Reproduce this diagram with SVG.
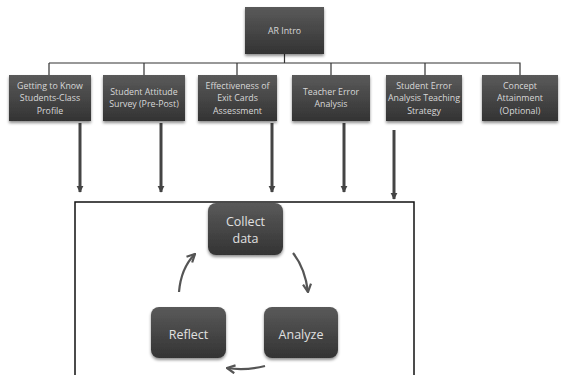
<svg xmlns="http://www.w3.org/2000/svg" width="561" height="375" viewBox="0 0 561 375">
<defs>
<linearGradient id="g" x1="0" y1="0" x2="0" y2="1">
<stop offset="0" stop-color="#5a5a5a"/>
<stop offset="1" stop-color="#333"/>
</linearGradient>
<filter id="sh" x="-20%" y="-20%" width="140%" height="150%">
<feDropShadow dx="0" dy="2" stdDeviation="1.5" flood-color="#000" flood-opacity="0.45"/>
</filter>
<marker id="ah" viewBox="0 0 10 10" refX="9" refY="5" markerWidth="7" markerHeight="8" markerUnits="userSpaceOnUse" orient="auto">
<path d="M0,0 L10,5 L0,10 Z" fill="#444"/>
</marker>
<marker id="ch" viewBox="0 0 10 10" refX="9" refY="5" markerWidth="10" markerHeight="10" markerUnits="userSpaceOnUse" orient="auto">
<path d="M1,1 L9,5 L1,9" fill="none" stroke="#555" stroke-width="2.2"/>
</marker>
</defs>
<style>
.box{fill:url(#g);filter:url(#sh);}
.t{font-family:"Open Sans","Liberation Sans",sans-serif;font-size:8.8px;fill:#d8d8d8;text-anchor:middle;}
.c{font-family:"Open Sans","Liberation Sans",sans-serif;font-size:12.5px;fill:#e0e0e0;text-anchor:middle;}
.ln{stroke:#333;stroke-width:1.2;fill:none;}
.ar{stroke:#444;stroke-width:3;fill:none;}
.cy{stroke:#555;stroke-width:2.2;fill:none;}
</style>
<g id="connectors">
<path class="ln" d="M284.5,54 V63 M49,63 H520 V75 M49,63 V75 M144,63 V75 M237,63 V75 M331,63 V75 M425,63 V75"/>
<line class="ar" x1="80" y1="123" x2="80" y2="192" marker-end="url(#ah)"/>
<line class="ar" x1="161" y1="123" x2="161" y2="192" marker-end="url(#ah)"/>
<line class="ar" x1="272" y1="123" x2="272" y2="192" marker-end="url(#ah)"/>
<line class="ar" x1="344" y1="123" x2="344" y2="192" marker-end="url(#ah)"/>
<line class="ar" x1="394" y1="130" x2="394" y2="199" marker-end="url(#ah)"/>
<path class="cy" d="M293,253 Q305,268 308,292" marker-end="url(#ch)"/>
<path class="cy" d="M265,366 Q245,371 227,368" marker-end="url(#ch)"/>
<path class="cy" d="M179,292 Q181,268 195,254" marker-end="url(#ch)"/>
</g>
<rect x="75" y="202" width="339" height="190" fill="none" stroke="#111" stroke-width="1.5"/>
<g id="ar-intro">
<rect class="box" x="245" y="7" width="79" height="47"/>
<text class="t" x="284.5" y="34" font-size="9.8">AR Intro</text>
</g>
<g id="n1">
<rect class="box" x="9" y="75" width="82" height="46"/>
<text class="t" x="50" y="89">Getting to Know</text>
<text class="t" x="50" y="101">Students-Class</text>
<text class="t" x="50" y="114">Profile</text>
</g>
<g id="n2">
<rect class="box" x="103" y="75" width="82" height="46"/>
<text class="t" x="144" y="95">Student Attitude</text>
<text class="t" x="144" y="107">Survey (Pre-Post)</text>
</g>
<g id="n3">
<rect class="box" x="198" y="75" width="79" height="46"/>
<text class="t" x="237.5" y="89">Effectiveness of</text>
<text class="t" x="237.5" y="101">Exit Cards</text>
<text class="t" x="237.5" y="114">Assessment</text>
</g>
<g id="n4">
<rect class="box" x="292" y="75" width="78" height="46"/>
<text class="t" x="331" y="95">Teacher Error</text>
<text class="t" x="331" y="107">Analysis</text>
</g>
<g id="n5">
<rect class="box" x="386" y="75" width="76" height="46"/>
<text class="t" x="424" y="89">Student Error</text>
<text class="t" x="424" y="101">Analysis Teaching</text>
<text class="t" x="424" y="114">Strategy</text>
</g>
<g id="n6">
<rect class="box" x="482" y="75" width="76" height="46"/>
<text class="t" x="520" y="89">Concept</text>
<text class="t" x="520" y="101">Attainment</text>
<text class="t" x="520" y="114">(Optional)</text>
</g>
<g id="collect">
<rect class="box" x="208" y="203" width="75" height="52" rx="8"/>
<text class="c" x="245.5" y="225.5">Collect</text>
<text class="c" x="245.5" y="242.5">data</text>
</g>
<g id="reflect">
<rect class="box" x="151" y="307" width="75" height="51" rx="8"/>
<text class="c" x="188.5" y="338.5">Reflect</text>
</g>
<g id="analyze">
<rect class="box" x="264" y="307" width="74" height="51" rx="8"/>
<text class="c" x="301" y="338.5">Analyze</text>
</g>
</svg>
